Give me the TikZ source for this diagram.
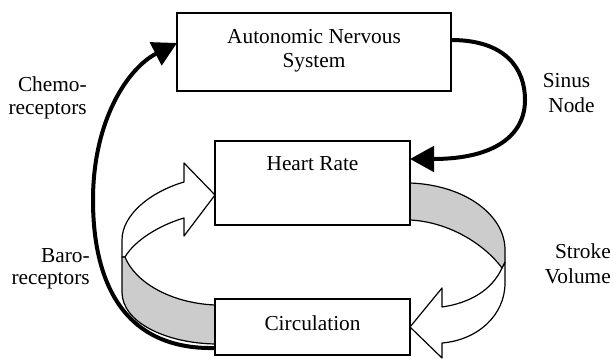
\documentclass[tikz,border=0pt]{standalone}
\usepackage{fontspec}
\setmainfont{Liberation Serif}
\newfontfamily\tnr{Liberation Serif}
\usetikzlibrary{arrows.meta}
\begin{document}
\begin{tikzpicture}[x=0.75pt,y=-0.75pt,
  box/.style={draw, line width=1pt, fill=white, inner sep=0pt, minimum width=146.25pt},
  txt/.style={font=\tnr\fontsize{16}{18}\selectfont, inner sep=0pt},
  fb/.style={line width=3pt, -{Triangle[length=18pt,width=19pt]}},
  ribbon/.style={draw, line width=0.9pt, line join=round},
  band/.style={ribbon, fill=black!20},
  face/.style={ribbon, fill=white}]
\useasboundingbox (0,0) rectangle (613,359);

\coordinate (hrR) at (410,159);
\coordinate (ansR) at (451,40);
\coordinate (ansL) at (177,43);
\coordinate (ciL) at (215,348);

% feedback arrows
\draw[fb] (ciL) .. controls (122,350) and (93,280) .. (93,200)
          .. controls (93,120) and (128,68) .. (ansL);
\draw[fb] (ansR) .. controls (505,40) and (525,68) .. (525,100)
          .. controls (525,135) and (495,159) .. (hrR);

% left ribbon arrow (Circulation -> Heart Rate)
\draw[face] (215,195) -- (184,163) -- (184,182)
   .. controls (150,192) and (122,215) .. (122,240) -- (122,257)
   -- (125,257) .. controls (135,240) and (160,225) .. (184,218)
   -- (184,236) -- cycle;
\draw[band] (125,257) .. controls (135,282) and (170,303) .. (215,305)
   -- (215,344) .. controls (165,343) and (122,322) .. (122,292)
   -- (122,257) -- cycle;

% right ribbon arrow (Heart Rate -> Circulation)
\draw[face] (502,268) .. controls (492,290) and (470,303) .. (442,307)
   -- (442,288) -- (410,327) -- (442,358) -- (442,343)
   .. controls (478,340) and (505,315) .. (505,283) -- (505,262) -- cycle;
\draw[band] (410,183) .. controls (465,185) and (505,215) .. (505,250)
   -- (505,262) -- (502,268) .. controls (485,245) and (450,222) .. (410,220) -- cycle;

% boxes
\node[box, minimum width=205.5pt, minimum height=58.5pt] (ans) at (314,52) {};
\node[box, minimum height=63pt] (hr) at (312.5,183) {};
\node[box, minimum height=42pt] (ci) at (312.5,327) {};

% box texts
\node[txt, anchor=base] (ans1) at (314,44) {Autonomic Nervous};
\node[txt, anchor=base] (ans2) at (314,68) {System};
\node[txt, anchor=base] (hrT) at (312.5,171) {Heart Rate};
\node[txt, anchor=base] (ciT) at (312.5,330) {Circulation};

% side labels
\node[txt, anchor=base east] (ch1) at (87,92) {Chemo-};
\node[txt, anchor=base east] (ch2) at (87,115) {receptors};
\node[txt, anchor=base east] (ba1) at (90,263) {Baro-};
\node[txt, anchor=base east] (ba2) at (90,285) {receptors};
\node[txt, anchor=base] (si1) at (566.5,88) {Sinus};
\node[txt, anchor=base] (si2) at (571.5,113) {Node};
\node[txt, anchor=base east] (sv1) at (611,259) {Stroke};
\node[txt, anchor=base east] (sv2) at (611,283) {Volume};
\end{tikzpicture}
\end{document}
